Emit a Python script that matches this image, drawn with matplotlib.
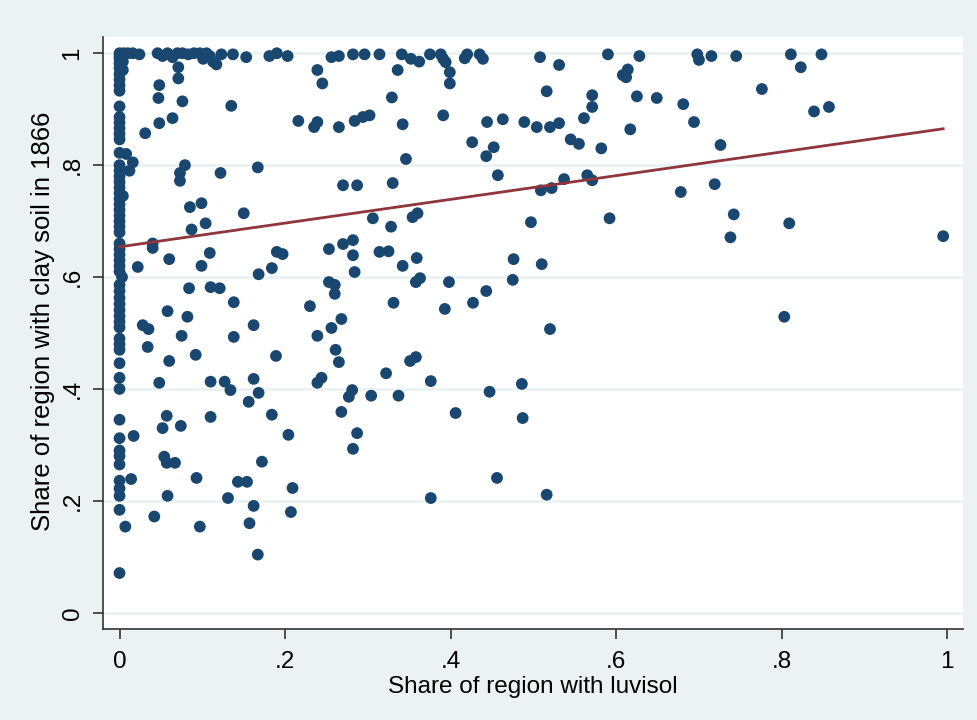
import matplotlib.pyplot as plt

# regions with no luvisol at all (x = 0)
zero_clay = [1.0, 0.995, 0.99, 0.982, 0.973, 0.963, 0.953, 0.943, 0.933, 0.905,
             0.886, 0.876, 0.866, 0.856, 0.846, 0.822, 0.80, 0.79, 0.78, 0.77,
             0.76, 0.75, 0.74, 0.73, 0.72, 0.71, 0.70, 0.69, 0.68, 0.66,
             0.65, 0.64, 0.63, 0.62, 0.61, 0.586, 0.575, 0.563, 0.552, 0.541,
             0.53, 0.52, 0.51, 0.49, 0.48, 0.47, 0.446, 0.42, 0.40, 0.345,
             0.312, 0.29, 0.28, 0.265, 0.236, 0.222, 0.209, 0.184, 0.071]

# regions with some luvisol: (share luvisol, share clay soil)
luvisol = [0.005, 0.01, 0.016, 0.024, 0.004, 0.004, 0.008, 0.016, 0.012, 0.004,
           0.003, 0.007, 0.014, 0.017, 0.022, 0.028, 0.035, 0.034, 0.031, 0.04,
           0.04, 0.042,
           0.046, 0.052, 0.058, 0.064, 0.07, 0.076, 0.083, 0.09, 0.097, 0.101,
           0.105, 0.109, 0.113, 0.117, 0.123, 0.071, 0.071, 0.137, 0.153, 0.181,
           0.19, 0.203, 0.239, 0.245, 0.256, 0.265, 0.282, 0.296, 0.314, 0.341,
           0.352, 0.362, 0.375, 0.388, 0.391, 0.394, 0.399, 0.399, 0.42, 0.417,
           0.435, 0.439, 0.508, 0.531, 0.59, 0.628, 0.698, 0.7, 0.715, 0.745,
           0.811, 0.848, 0.823,
           0.048, 0.047, 0.076, 0.064, 0.048, 0.079, 0.073, 0.073, 0.085, 0.099,
           0.087, 0.104, 0.135, 0.216, 0.235, 0.239, 0.265, 0.284, 0.294, 0.302,
           0.122, 0.167, 0.27, 0.287, 0.15, 0.336, 0.329, 0.516, 0.342, 0.391,
           0.444, 0.463, 0.489, 0.504, 0.52, 0.531, 0.426, 0.452, 0.443, 0.346,
           0.457, 0.33, 0.306, 0.328, 0.354, 0.36, 0.497, 0.509, 0.522, 0.537,
           0.565, 0.571, 0.608, 0.612, 0.614, 0.776, 0.571, 0.571, 0.561, 0.625,
           0.649, 0.681, 0.694, 0.839, 0.857, 0.617, 0.545, 0.555, 0.582, 0.726,
           0.678, 0.719, 0.592, 0.742, 0.809, 0.995, 0.738, 0.803,
           0.109, 0.06, 0.099, 0.084, 0.11, 0.121, 0.058, 0.082, 0.075, 0.092,
           0.06, 0.048, 0.11, 0.127, 0.134, 0.057, 0.052, 0.074, 0.11,
           0.19, 0.197, 0.184, 0.168, 0.253, 0.27, 0.282, 0.282, 0.284, 0.253,
           0.26, 0.26, 0.138, 0.23, 0.162, 0.268, 0.256, 0.138, 0.239, 0.261,
           0.265, 0.189, 0.162, 0.168, 0.156, 0.239, 0.244, 0.281, 0.277, 0.184,
           0.268, 0.204, 0.287,
           0.314, 0.325, 0.342, 0.359, 0.358, 0.363, 0.398, 0.331, 0.393, 0.427,
           0.443, 0.476, 0.51, 0.475, 0.52, 0.351, 0.358, 0.322, 0.376, 0.304,
           0.337, 0.447, 0.486, 0.406, 0.487,
           0.054, 0.057, 0.067, 0.093, 0.058, 0.097, 0.282, 0.172, 0.143, 0.154,
           0.131, 0.209, 0.162, 0.207, 0.157, 0.167, 0.376, 0.456, 0.516]

clay = [1.0, 1.0, 1.0, 0.998, 0.985, 0.97, 0.82, 0.805, 0.79, 0.745,
        0.6, 0.154, 0.239, 0.316, 0.618, 0.514, 0.507, 0.475, 0.857, 0.66,
        0.652, 0.172,
        1.0, 0.995, 1.0, 0.993, 1.0, 1.0, 0.998, 1.0, 1.0, 0.99,
        1.0, 0.995, 0.985, 0.98, 0.998, 0.975, 0.955, 0.998, 0.993, 0.995,
        1.0, 0.995, 0.97, 0.946, 0.993, 0.995, 0.998, 0.998, 0.998, 0.998,
        0.99, 0.985, 0.998, 0.998, 0.99, 0.984, 0.966, 0.946, 0.998, 0.991,
        0.998, 0.99, 0.993, 0.979, 0.998, 0.995, 0.998, 0.988, 0.995, 0.995,
        0.998, 0.998, 0.975,
        0.943, 0.92, 0.914, 0.884, 0.875, 0.80, 0.786, 0.772, 0.725, 0.732,
        0.685, 0.696, 0.906, 0.879, 0.868, 0.877, 0.868, 0.879, 0.886, 0.889,
        0.786, 0.796, 0.764, 0.764, 0.714, 0.97, 0.921, 0.932, 0.873, 0.889,
        0.877, 0.882, 0.877, 0.868, 0.868, 0.875, 0.841, 0.832, 0.816, 0.811,
        0.782, 0.768, 0.705, 0.69, 0.707, 0.714, 0.698, 0.755, 0.759, 0.775,
        0.782, 0.773, 0.961, 0.957, 0.971, 0.936, 0.925, 0.904, 0.884, 0.923,
        0.92, 0.909, 0.877, 0.896, 0.904, 0.864, 0.846, 0.838, 0.83, 0.836,
        0.752, 0.766, 0.705, 0.712, 0.696, 0.673, 0.671, 0.529,
        0.643, 0.632, 0.62, 0.58, 0.582, 0.58, 0.539, 0.529, 0.495, 0.461,
        0.45, 0.411, 0.413, 0.413, 0.398, 0.352, 0.33, 0.334, 0.35,
        0.645, 0.641, 0.616, 0.605, 0.65, 0.659, 0.666, 0.639, 0.609, 0.591,
        0.586, 0.57, 0.555, 0.548, 0.514, 0.525, 0.509, 0.493, 0.495, 0.47,
        0.448, 0.459, 0.418, 0.393, 0.377, 0.411, 0.42, 0.398, 0.386, 0.354,
        0.359, 0.318, 0.321,
        0.645, 0.646, 0.62, 0.634, 0.591, 0.598, 0.591, 0.554, 0.543, 0.554,
        0.575, 0.632, 0.623, 0.595, 0.507, 0.45, 0.457, 0.428, 0.414, 0.388,
        0.388, 0.395, 0.409, 0.357, 0.348,
        0.279, 0.268, 0.268, 0.241, 0.209, 0.154, 0.293, 0.27, 0.234, 0.234,
        0.205, 0.223, 0.191, 0.18, 0.16, 0.104, 0.205, 0.241, 0.211]

# linear fit endpoints
fit_x = [0.0, 0.995]
fit_y = [0.654, 0.865]

ticks = [0, 0.2, 0.4, 0.6, 0.8, 1.0]
tick_labels = ["0", ".2", ".4", ".6", ".8", "1"]

bg = "#EAF2F3"
navy = "#1A476F"
maroon = "#90353B"

plt.rcParams['font.family'] = ['Liberation Sans', 'DejaVu Sans']

fig = plt.figure(figsize=(9.78, 7.2), dpi=100, facecolor=bg)
ax = fig.add_axes([0.1053, 0.1264, 0.8794, 0.8222])
ax.set_facecolor("white")

for t in ticks:
    ax.axhline(t, color=bg, lw=2, zorder=0)

ax.scatter([0.0] * len(zero_clay), zero_clay, s=72, color=navy,
           edgecolors="none", zorder=2)
ax.scatter(luvisol, clay, s=72, color=navy, edgecolors="none", zorder=2)
ax.plot(fit_x, fit_y, color=maroon, lw=2, zorder=3)

ax.set_xlim(-0.02, 1.019)
ax.set_ylim(-0.029, 1.029)

ax.set_xticks(ticks)
ax.set_xticklabels(tick_labels)
ax.set_yticks(ticks)
ax.set_yticklabels(tick_labels, rotation=90, va="center")
ax.tick_params(axis="both", direction="out", length=7, width=1.2,
               color="#333333", labelsize=17.5)
ax.tick_params(axis="x", pad=9)
ax.tick_params(axis="y", pad=7)

for side in ["top", "right"]:
    ax.spines[side].set_visible(False)
for side in ["left", "bottom"]:
    ax.spines[side].set_color("#333333")
    ax.spines[side].set_linewidth(1.2)

ax.set_xlabel("Share of region with luvisol", fontsize=17.5, labelpad=2)
ax.set_ylabel("Share of region with clay soil in 1866", fontsize=18.5)
ax.yaxis.set_label_coords(-0.056, 0.52)

fig.savefig("out.png", dpi=100, facecolor=bg)
